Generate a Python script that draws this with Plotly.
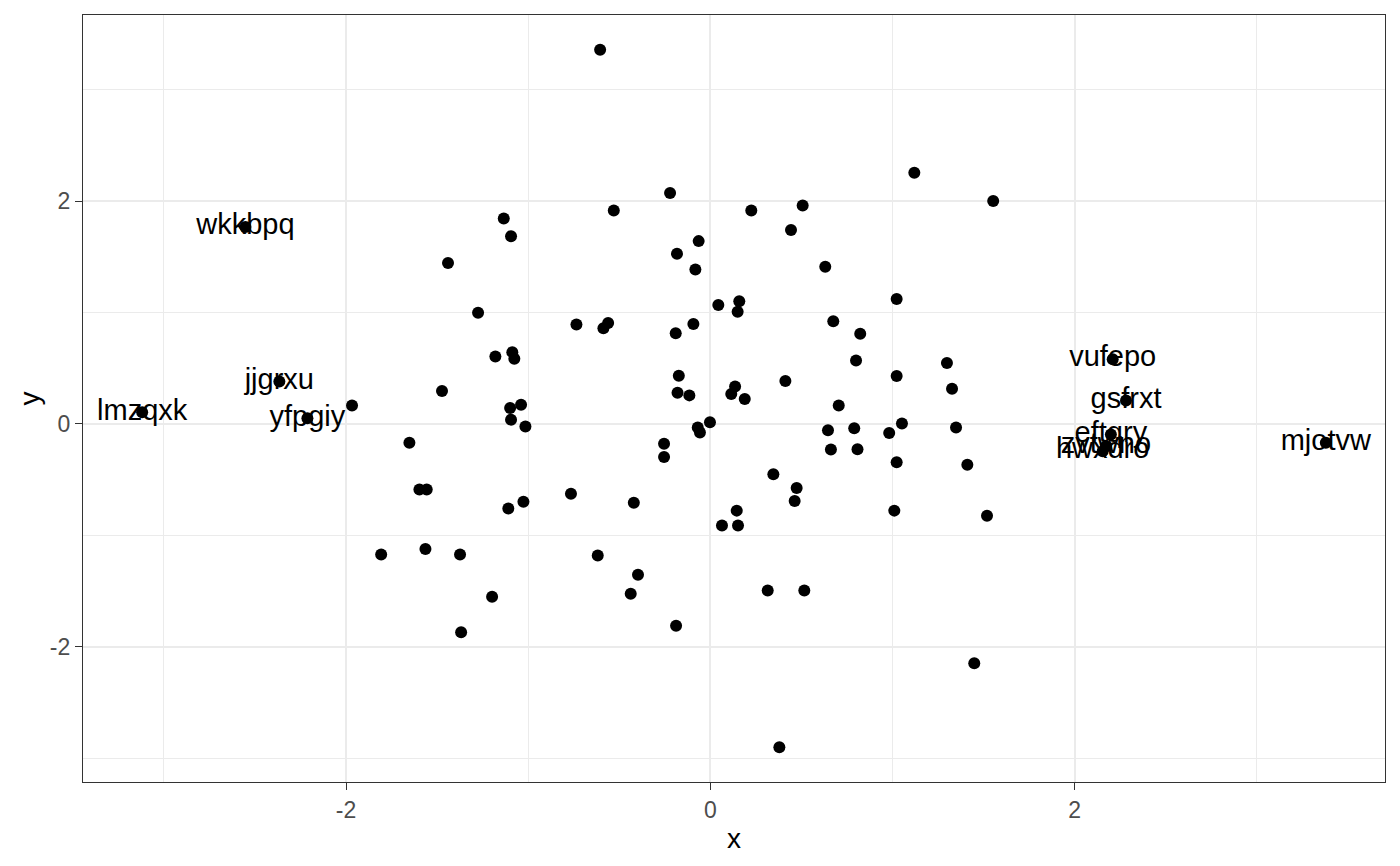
import plotly.graph_objects as go

# ============================
# dados
# ============================
x_vals = [
    -0.605, 1.120, 1.553, -0.221, -0.530, 0.225, 0.507, -1.134, -1.094, 0.443,
    -0.064, -0.183, -1.440, -0.082, 0.631, 1.023, 0.159, 0.044, 0.150, -1.275,
    -0.735, -0.587, -0.561, -0.190, -0.093, 0.675, 0.823, -1.180, -1.087, -1.076,
    0.800, 1.299, -0.173, 1.023, 0.412, 0.136, 1.327, -0.180, -0.115, 0.115,
    0.189, -1.473, -1.967, -1.039, -1.099, 0.705, -1.094, -0.069, -0.057, -0.002,
    -1.015, 0.646, 0.790, 1.349, 1.052, 0.982, -1.652, -0.254, -0.254, 0.662,
    0.808, 1.023, 1.411, 0.346, -1.597, -1.557, 0.474, -0.765, 0.463, -1.026,
    -0.420, -1.109, 0.145, 1.010, 1.519, 0.064, 0.152, -1.807, -1.564, -1.374,
    -0.618, -0.397, 0.315, 0.516, -0.437, -1.198, -0.188, -1.368, 1.449, 0.379,
    -2.552, -2.366, -3.119, -2.212, 2.209, 2.282, 2.199, 2.172, 2.154, 3.379,
]
y_vals = [
    3.356, 2.254, 2.000, 2.072, 1.914, 1.914, 1.959, 1.843, 1.684, 1.739,
    1.640, 1.526, 1.443, 1.385, 1.410, 1.121, 1.100, 1.067, 1.007, 0.998,
    0.891, 0.859, 0.906, 0.814, 0.897, 0.921, 0.808, 0.605, 0.644, 0.584,
    0.569, 0.546, 0.432, 0.429, 0.385, 0.336, 0.316, 0.280, 0.256, 0.268,
    0.224, 0.295, 0.166, 0.171, 0.143, 0.166, 0.038, -0.033, -0.078, 0.014,
    -0.024, -0.057, -0.039, -0.033, 0.003, -0.082, -0.170, -0.179, -0.297, -0.230,
    -0.227, -0.343, -0.366, -0.451, -0.588, -0.588, -0.576, -0.626, -0.692, -0.698,
    -0.707, -0.758, -0.778, -0.778, -0.823, -0.912, -0.912, -1.172, -1.122, -1.172,
    -1.181, -1.354, -1.494, -1.494, -1.524, -1.551, -1.810, -1.869, -2.147, -2.900,
    1.767, 0.381, 0.104, 0.050, 0.581, 0.211, -0.096, -0.200, -0.245, -0.170,
]
# rótulos só para os pontos com |x| > 2
labels = [""] * 90 + [
    "wkkbpq", "jjgrxu", "lmzqxk", "yfpgiy", "vufepo",
    "gsfrxt", "eftqry", "zvtwno", "hwxdro", "mjotvw",
]

# ticks (com hífen, como no ggplot)
tick_vals = [-2, 0, 2]
tick_text = ["-2", "0", "2"]

# expansão de 5% como no ggplot
def faixa(v):
    lo, hi = min(v), max(v)
    pad = (hi - lo) * 0.05
    return [lo - pad, hi + pad]

fonte = "Liberation Sans, Arial"

fig = go.Figure()

fig.add_trace(go.Scatter(
    x=x_vals, y=y_vals, mode="markers",
    marker=dict(color="black", size=12, line=dict(width=0)),
    hoverinfo="skip", showlegend=False
))

fig.add_trace(go.Scatter(
    x=x_vals, y=y_vals, mode="text", text=labels,
    textposition="middle center",
    textfont=dict(family=fonte, size=29, color="black"),
    hoverinfo="skip", showlegend=False
))

eixo = dict(
    showgrid=True, gridcolor="#EBEBEB", gridwidth=2.4,
    zeroline=False, automargin=False,
    showline=True, linecolor="#333333", linewidth=1.3, mirror=True,
    ticks="outside", ticklen=7, tickwidth=1.3, tickcolor="#333333",
    tickfont=dict(family=fonte, size=23, color="#4D4D4D"),
    tickvals=tick_vals, ticktext=tick_text,
    minor=dict(dtick=1, tick0=0, showgrid=True, gridcolor="#EBEBEB", gridwidth=1.2, ticks=""),
)

fig.update_xaxes(eixo, range=faixa(x_vals),
                 title=dict(text="x", standoff=6,
                            font=dict(family=fonte, size=28, color="black")))
fig.update_yaxes(eixo, range=faixa(y_vals),
                 title=dict(text="y", standoff=1,
                            font=dict(family=fonte, size=28, color="black")))

# a página tem margem de 8px no body, por isso 1392x858
fig.update_layout(
    width=1392, height=858,
    margin=dict(l=75, r=15, t=7, b=84),
    paper_bgcolor="white", plot_bgcolor="white",
)

fig.write_html("out.html")
